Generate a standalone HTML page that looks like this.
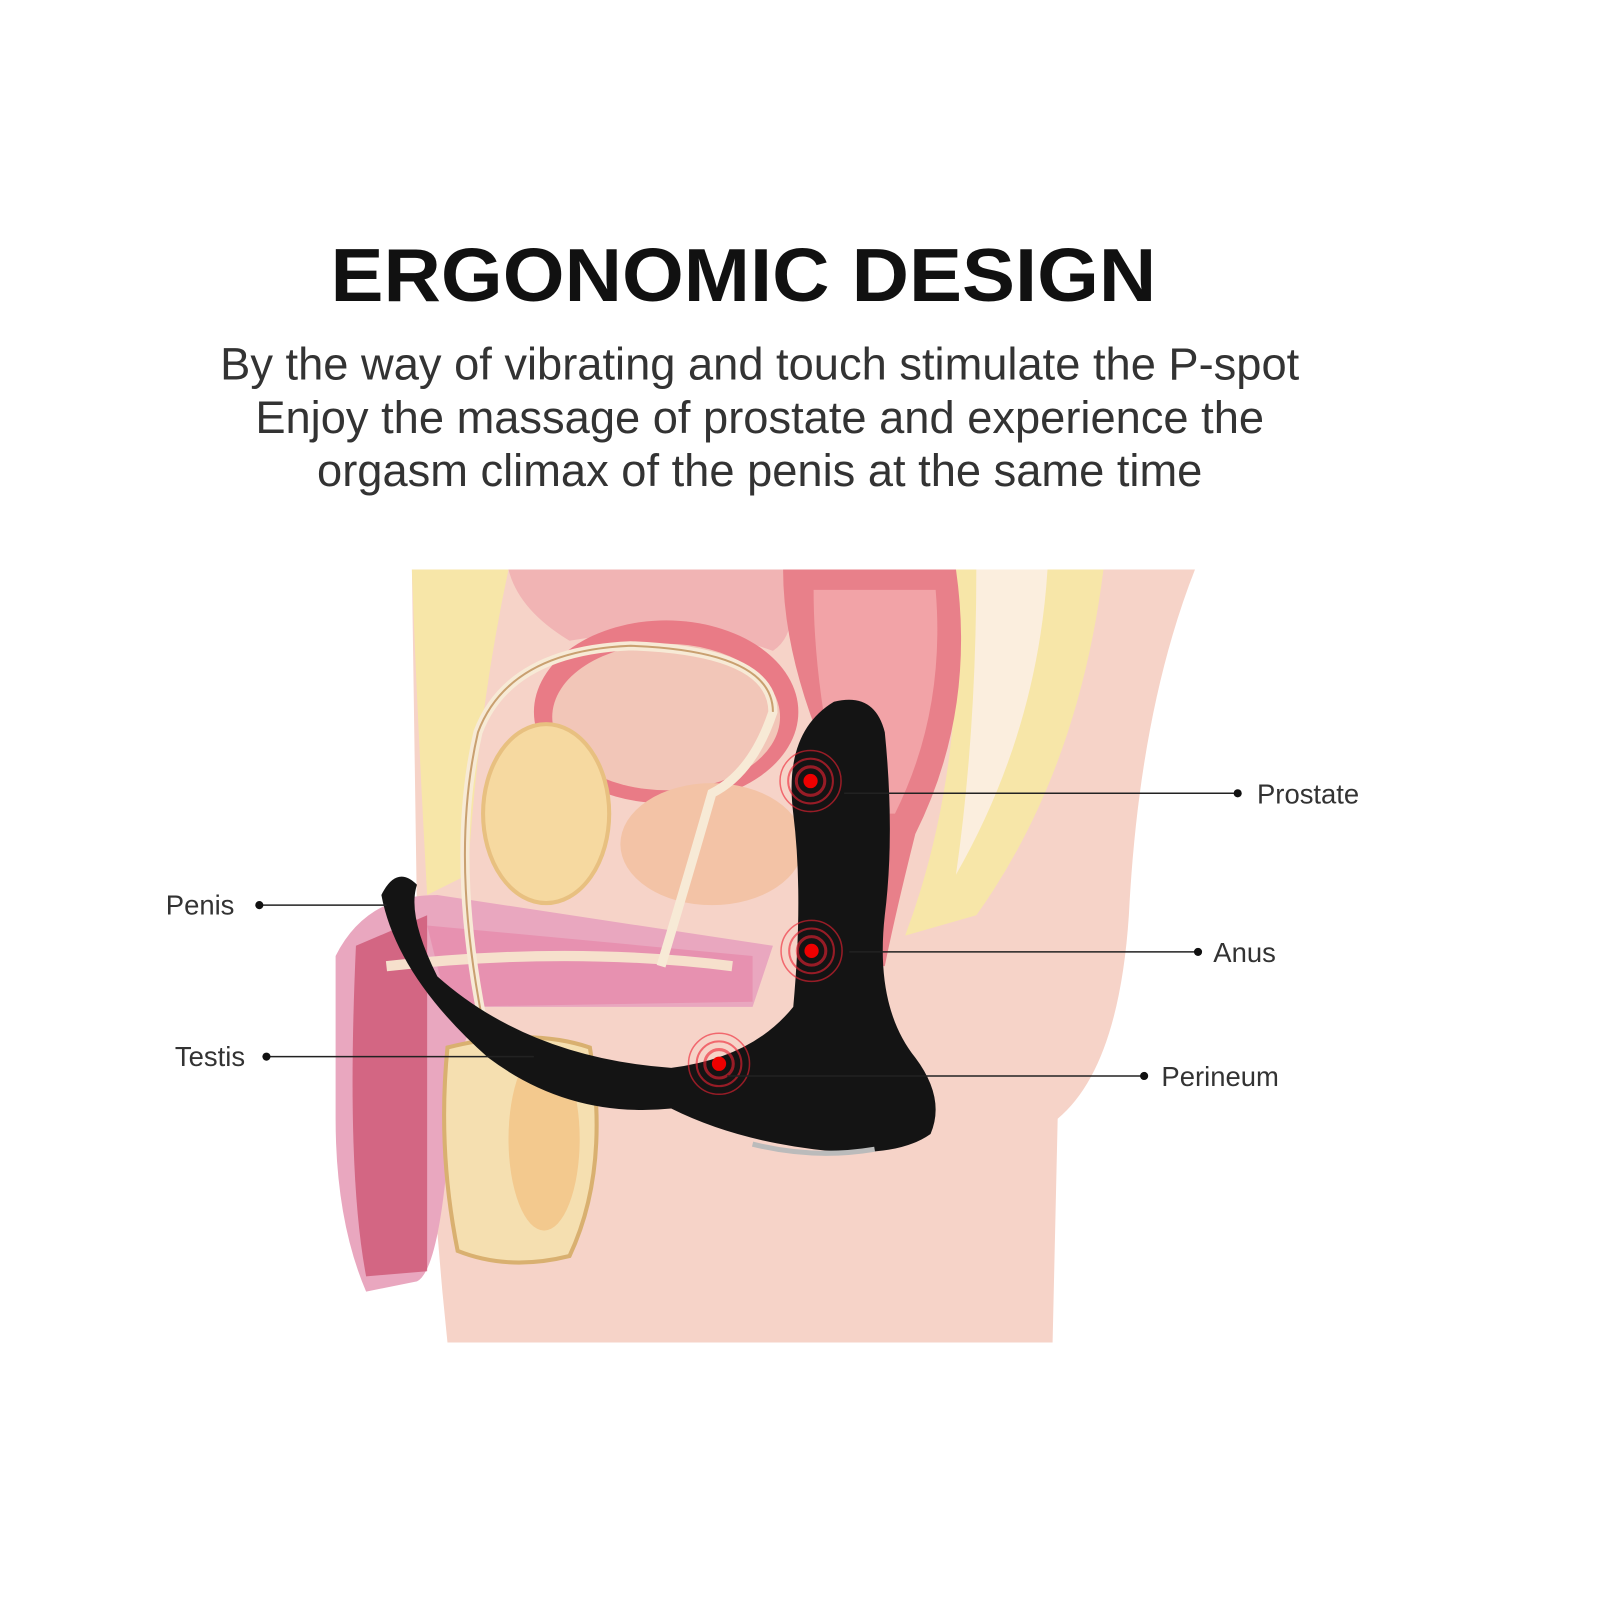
<!DOCTYPE html>
<html><head><meta charset="utf-8"><style>
html,body{margin:0;padding:0;background:#fff;width:1600px;height:1600px;overflow:hidden}
</style></head><body>
<svg width="1600" height="1600" viewBox="0 0 1600 1600" xmlns="http://www.w3.org/2000/svg" font-family="Liberation Sans, sans-serif">
<rect width="1600" height="1600" fill="#fff"/>
<g transform="scale(1.017)">
<text x="731" y="296" text-anchor="middle" font-size="74" font-weight="bold" fill="#111" textLength="812" lengthAdjust="spacingAndGlyphs">ERGONOMIC DESIGN</text>
<g font-size="44.5" fill="#333" text-anchor="middle">
<text x="747" y="373">By the way of vibrating and touch stimulate the P-spot</text>
<text x="747" y="426">Enjoy the massage of prostate and experience the</text>
<text x="747" y="478">orgasm climax of the penis at the same time</text>
</g>
<path d="M405 560 L1175 560 Q1120 700 1110 900 Q1100 1050 1040 1100 L1035 1320 L440 1320 L435 1270 Q420 1100 410 900 Z" fill="#f6d3c8"/>
<path d="M405 560 L500 560 Q470 700 460 860 L420 880 Q410 700 405 560Z" fill="#f7e6a8"/>
<path d="M940 560 L1085 560 Q1060 760 960 900 L890 920 Q950 760 940 560Z" fill="#f7e6a8"/>
<path d="M960 560 L1030 560 Q1020 720 940 860 Q960 720 960 560Z" fill="#fbeede"/>
<path d="M500 560 L770 560 Q790 620 760 640 Q680 610 560 630 Q510 600 500 560Z" fill="#f1b4b4"/>
<ellipse cx="655" cy="700" rx="130" ry="90" fill="#e97b86"/>
<ellipse cx="655" cy="705" rx="112" ry="72" fill="#f2c6b8"/>
<path d="M770 560 L940 560 Q960 700 900 820 Q880 900 870 950 L800 950 Q790 850 820 760 Q770 650 770 560Z" fill="#e8808a"/>
<path d="M800 580 L920 580 Q930 700 880 800 L830 800 Q800 680 800 580Z" fill="#f2a3a7"/>
<ellipse cx="700" cy="830" rx="90" ry="60" fill="#f3c3a6"/>
<ellipse cx="537" cy="800" rx="62" ry="88" fill="#f6d9a0" stroke="#e8c080" stroke-width="4"/>
<path d="M330 940 Q360 880 430 880 L760 930 L740 990 L470 990 Q440 1060 440 1140 Q430 1250 410 1260 L360 1270 Q330 1200 330 1100 Z" fill="#e9a7bf"/>
<path d="M350 930 L420 900 L420 1250 L360 1255 Q340 1150 350 930Z" fill="#c94a6a" opacity="0.7"/>
<path d="M420 910 L740 940 L740 985 L440 990 Z" fill="#e791b0"/>
<path d="M380 950 Q560 930 720 950" stroke="#f6e0cc" stroke-width="10" fill="none"/>
<path d="M440 1030 Q520 1010 580 1030 Q600 1150 560 1235 Q500 1250 450 1230 Q430 1130 440 1030Z" fill="#f5dfb0" stroke="#d9b070" stroke-width="4"/>
<ellipse cx="535" cy="1120" rx="35" ry="90" fill="#f3c98e"/>
<path d="M480 1030 Q440 850 470 720 Q500 640 620 635 Q760 640 760 700 Q740 760 700 780 Q680 850 650 950" stroke="#f7ead6" stroke-width="9" fill="none"/>
<path d="M480 1030 Q440 850 470 720 Q500 640 620 635 Q760 640 760 700" stroke="#c9a070" stroke-width="2" fill="none"/>
<path d="M375 880 Q390 850 410 870 Q400 900 430 960 Q520 1040 660 1050 Q740 1040 780 990 Q790 880 780 800 Q770 720 820 690 Q860 680 870 720 Q880 820 870 900 Q860 990 900 1040 Q930 1080 915 1115 Q880 1140 800 1130 Q720 1120 660 1090 Q560 1100 480 1040 Q390 960 375 880Z" fill="#141414"/>
<path d="M740 1125 Q800 1140 860 1130" stroke="#bbb" stroke-width="5" fill="none"/>
<g fill="none" stroke="#e23" opacity="0.6">
<circle cx="797" cy="768" r="14" stroke-width="3"/><circle cx="797" cy="768" r="22" stroke-width="2"/><circle cx="797" cy="768" r="30" stroke-width="1.5"/>
<circle cx="798" cy="935" r="14" stroke-width="3"/><circle cx="798" cy="935" r="22" stroke-width="2"/><circle cx="798" cy="935" r="30" stroke-width="1.5"/>
<circle cx="707" cy="1046" r="14" stroke-width="3"/><circle cx="707" cy="1046" r="22" stroke-width="2"/><circle cx="707" cy="1046" r="30" stroke-width="1.5"/>
</g>
<circle cx="797" cy="768" r="7" fill="#e00"/>
<circle cx="798" cy="935" r="7" fill="#e00"/>
<circle cx="707" cy="1046" r="7" fill="#e00"/>
<g stroke="#222" stroke-width="1.5">
<line x1="830" y1="780" x2="1217" y2="780"/>
<line x1="835" y1="936" x2="1178" y2="936"/>
<line x1="715" y1="1058" x2="1125" y2="1058"/>
<line x1="255" y1="890" x2="380" y2="890"/>
<line x1="262" y1="1039" x2="525" y2="1039"/>
</g>
<g fill="#111">
<circle cx="1217" cy="780" r="4"/><circle cx="1178" cy="936" r="4"/><circle cx="1125" cy="1058" r="4"/>
<circle cx="255" cy="890" r="4"/><circle cx="262" cy="1039" r="4"/>
</g>
<g font-size="27" fill="#333">
<text x="1236" y="790">Prostate</text>
<text x="1193" y="946">Anus</text>
<text x="1142" y="1068">Perineum</text>
<text x="163" y="899">Penis</text>
<text x="172" y="1048">Testis</text>
</g>
</g>
</svg>
</body></html>
